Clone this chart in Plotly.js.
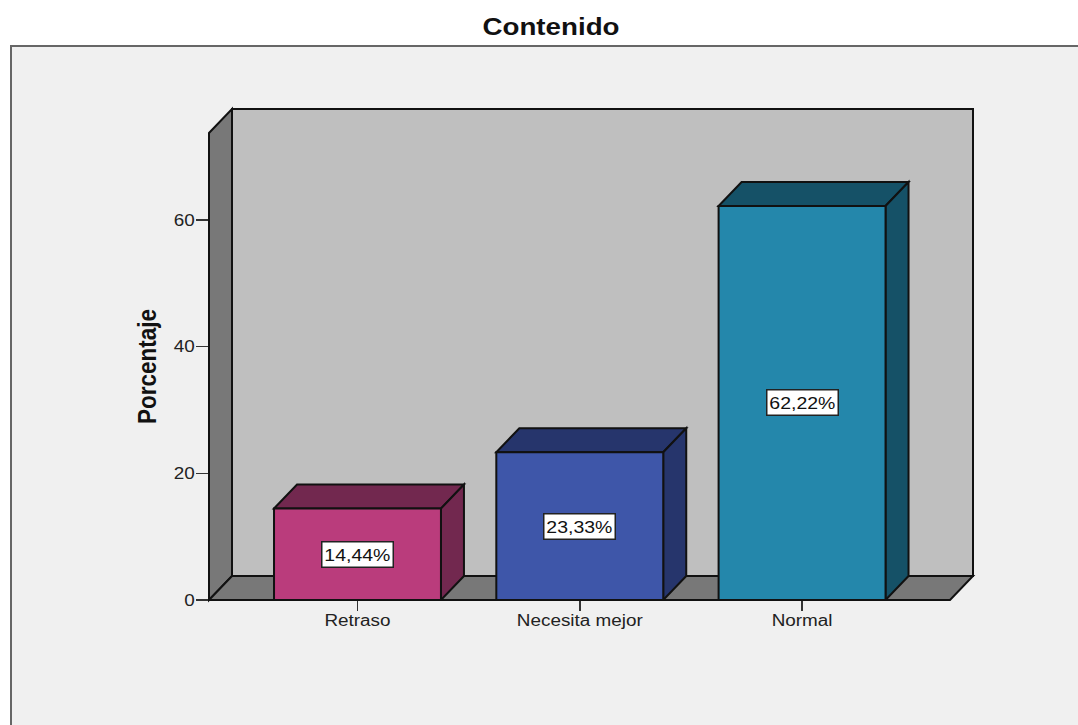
<!DOCTYPE html>
<html>
<head>
<meta charset="utf-8">
<script src="https://cdn.plot.ly/plotly-3.0.1.min.js"></script>
<style>html,body{margin:0;padding:0;background:#fff;overflow:hidden}</style>
</head>
<body>
<div id="chart" style="width:1078px;height:725px"></div>
<script>
const categories = ["Retraso", "Necesita mejor", "Normal"];
const porcentajes = [14.44, 23.33, 62.22];
const valueLabels = ["14,44%", "23,33%", "62,22%"];
const frontColors = ["#BA3C7C", "#3E56A9", "#2487AB"];
const darkColors = ["#72284F", "#26356C", "#155167"];
const yTicks = [0, 20, 40, 60];

const W = 1078, H = 725;
const L = 209, R = 973, T = 109, B = 600;
const xMin = -0.668, xMax = 2.769, yMax = 77.53, barW = 0.751;
const dx = 23 / ((R - L) / (xMax - xMin));
const dy = 24 / ((B - T) / yMax);
const xPos = categories.map((_, i) => i);
const edge = "#111111";
const fx = x => (x - xMin) / (xMax - xMin);
const fy = y => y / yMax;

function poly(pts, fill) {
  return {
    type: "path", xref: "x", yref: "y", layer: "below",
    path: "M" + pts.map(p => p[0] + "," + p[1]).join("L") + "Z",
    fillcolor: fill, line: {color: edge, width: 2}
  };
}
// walls touch the plot-area edge, so they are placed in paper space to keep their full outline
function wall(pts, fill) {
  return {
    type: "path", xref: "paper", yref: "paper", layer: "below",
    path: "M" + pts.map(p => fx(p[0]) + "," + fy(p[1])).join("L") + "Z",
    fillcolor: fill, line: {color: edge, width: 2}
  };
}
const panel = {
  type: "path", xref: "paper", yref: "paper", layer: "below",
  path: (function () {
    const px = v => (v - L) / (R - L), py = v => (B - v) / (B - T);
    return "M" + px(11) + "," + py(H + 5) + "L" + px(11) + "," + py(46) +
      "L" + px(W + 5) + "," + py(46) + "L" + px(W + 5) + "," + py(H + 5) + "Z";
  })(),
  fillcolor: "#F0F0F0", line: {color: "#666666", width: 2}
};
const shapes = [
  panel,
  wall([[xMin + dx, dy], [xMax, dy], [xMax, yMax], [xMin + dx, yMax]], "#BFBFBF"),
  wall([[xMin, 0], [xMin + dx, dy], [xMin + dx, yMax], [xMin, yMax - dy]], "#787878"),
  wall([[xMin, 0], [xMin + dx, dy], [xMax, dy], [xMax - dx, 0]], "#787878")
];
xPos.forEach((x, i) => {
  const a = x - barW / 2, b = x + barW / 2, v = porcentajes[i];
  shapes.push(poly([[a, v], [a + dx, v + dy], [b + dx, v + dy], [b, v]], darkColors[i]));
  shapes.push(poly([[b, 0], [b + dx, dy], [b + dx, v + dy], [b, v]], darkColors[i]));
});

const annotations = xPos.map((x, i) => ({
  x: x, y: porcentajes[i] / 2, xref: "x", yref: "y",
  text: valueLabels[i], showarrow: false,
  font: {family: "Liberation Sans", size: 16.5, color: "#111"},
  bgcolor: "#FFFFFF", bordercolor: "#222", borderwidth: 1.5,
  width: 68, height: 22, align: "center", valign: "middle"
}));
annotations.push({
  xref: "paper", yref: "paper", xanchor: "center", yanchor: "middle",
  x: (147 - L) / (R - L), y: (B - 367) / (B - T),
  text: "Porcentaje", textangle: -90, showarrow: false,
  font: {family: "Liberation Sans", size: 26, weight: 700, color: "#111"}
});

const trace = {
  type: "bar", x: xPos, y: porcentajes, width: barW, cliponaxis: false,
  marker: {color: frontColors, line: {color: edge, width: 2}},
  hoverinfo: "skip"
};
const layout = {
  width: W, height: H, autosize: false, showlegend: false,
  paper_bgcolor: "#FFFFFF", plot_bgcolor: "rgba(0,0,0,0)",
  margin: {l: L, r: W - R, t: T, b: H - B, pad: 0},
  title: {
    text: "<b>Contenido</b>", xref: "container", yref: "container",
    x: 551 / W, xanchor: "center", y: 1 - 27 / H, yanchor: "middle",
    font: {family: "Liberation Sans", size: 23.5, color: "#111"}
  },
  xaxis: {
    range: [xMin, xMax], tickmode: "array", tickvals: xPos, ticktext: categories,
    showgrid: false, zeroline: false, showline: false,
    ticks: "outside", ticklen: 10, tickwidth: 1.5, tickcolor: "#333", ticklabelstandoff: -4,
    tickfont: {family: "Liberation Sans", size: 16, color: "#222"}, automargin: false
  },
  yaxis: {
    range: [0, yMax], tickmode: "array", tickvals: yTicks,
    showgrid: false, zeroline: false, showline: false,
    ticks: "outside", ticklen: 12, tickwidth: 1.5, tickcolor: "#333", ticklabelstandoff: -2,
    tickfont: {family: "Liberation Sans", size: 16, color: "#222"}, automargin: false
  },
  shapes: shapes, annotations: annotations
};
Plotly.newPlot("chart", [trace], layout, {displayModeBar: false, staticPlot: true}).then(() => {
  // the reference is horizontally stretched: apply the same stretch to the text glyphs
  document.querySelectorAll(".xtick text, .ytick text, .gtitle, .annotation-text").forEach(t => {
    const k = t.textContent === "Porcentaje" ? 0.865 : 1.18;
    t.setAttribute("textLength", t.getComputedTextLength() * k);
    t.setAttribute("lengthAdjust", "spacingAndGlyphs");
  });
});
</script>
</body>
</html>
